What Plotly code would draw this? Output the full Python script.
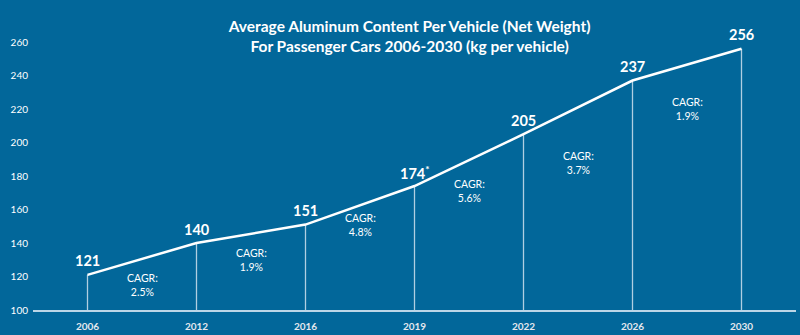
import plotly.graph_objects as go

years = ["2006", "2012", "2016", "2019", "2022", "2026", "2030"]
values = [121, 140, 151, 174, 205, 237, 256]
value_labels = ["121", "140", "151", "174<sup>*</sup>", "205", "237", "256"]
cagr_labels = ["2.5%", "1.9%", "4.8%", "5.6%", "3.7%", "1.9%"]
cagr_y = [115, 130, 151, 171, 187.5, 220]
y_ticks = [100, 120, 140, 160, 180, 200, 220, 240, 260]

BG = "#02679a"
FONT = "Lato"

fig = go.Figure()

# drop lines
dx, dy = [], []
for i, v in enumerate(values):
    dx += [i, i, None]
    dy += [100, v, None]
fig.add_trace(go.Scatter(x=dx, y=dy, mode="lines",
                         line=dict(color="rgba(235,242,250,0.75)", width=1.3),
                         hoverinfo="skip", showlegend=False))

fig.add_trace(go.Scatter(x=list(range(len(years))), y=values, mode="lines",
                         line=dict(color="white", width=2.5),
                         hoverinfo="skip", showlegend=False, cliponaxis=False))

for i, (lab, v) in enumerate(zip(value_labels, values)):
    fig.add_annotation(x=i, y=v, xref="x", yref="y", text=lab, showarrow=False,
                       yshift=14, font=dict(family=FONT, size=14.5, color="white", weight="bold"))

for i, (lab, yy) in enumerate(zip(cagr_labels, cagr_y)):
    fig.add_annotation(x=i + 0.5, y=yy, xref="x", yref="y",
                       text="CAGR:<br>" + lab, showarrow=False,
                       font=dict(family=FONT, size=10.5, color="white"),
                       align="center")

fig.update_layout(
    width=800, height=335,
    paper_bgcolor=BG, plot_bgcolor=BG,
    margin=dict(l=33, r=4, t=42, b=25),
    title=dict(text="Average Aluminum Content Per Vehicle (Net Weight)<br>For Passenger Cars 2006-2030 (kg per vehicle)",
               x=0.512, xanchor="center", y=0.905, yanchor="top",
               font=dict(family=FONT, size=15.5, color="white", weight="bold")),
    xaxis=dict(range=[-0.5, 6.5], tickmode="array",
               tickvals=list(range(len(years))), ticktext=years,
               showgrid=False, zeroline=False, showline=True,
               linecolor="rgba(235,242,250,0.8)", linewidth=1.5,
               tickfont=dict(family=FONT, size=10, color="#e4e8ee", weight="bold"),
               ticks="", ticklabelstandoff=6),
    yaxis=dict(range=[100, 260], tickmode="array", tickvals=y_ticks,
               showgrid=False, zeroline=False, showline=False,
               tickfont=dict(family=FONT, size=10, color="white"),
               ticks="", ticklabelstandoff=4),
)

fig.write_html("out.html")
